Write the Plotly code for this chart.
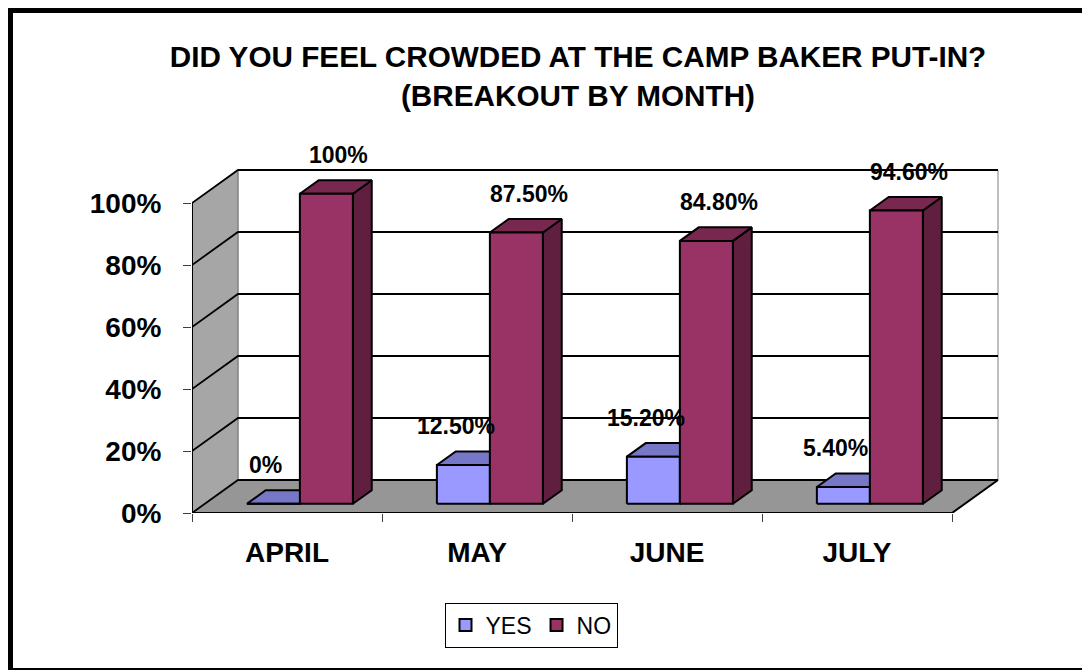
import plotly.graph_objects as go

# ---------------- data ----------------
months = ["APRIL", "MAY", "JUNE", "JULY"]
yes_vals = [0.0, 12.5, 15.2, 5.4]
no_vals = [100.0, 87.5, 84.8, 94.6]
yes_labels = ["0%", "12.50%", "15.20%", "5.40%"]
no_labels = ["100%", "87.50%", "84.80%", "94.60%"]
y_tickvals = [0, 20, 40, 60, 80, 100]
y_ticktext = ["0%", "20%", "40%", "60%", "80%", "100%"]
series_names = ["YES", "NO"]

# ---------------- geometry / style ----------------
OFF = 8                          # page body margin of the html page
WIDTH, HEIGHT = 1090 - OFF, 670 - OFF
AX_X, AX_Y = 192 - OFF, 513 - OFF   # front axis corner (figure px)
TOP_Y = 150 - OFF
PXX, PXY = 190.0, 3.1            # px per category, px per percent
PW = 817
L = AX_X
B = HEIGHT - AX_Y
T = TOP_Y
PH = AX_Y - TOP_Y
XMAX = PW / PXX
YMAX = PH / PXY
DX, DY = 46 / PXX, 33 / PXY      # depth offset of the back wall
F0, F1 = 0.28, 0.69              # bar depth (front, back) as fraction of depth
BW = 53 / PXX                    # bar width
N = len(months)
YTOP = max(y_tickvals)

FONT = "Liberation Sans, Arial, sans-serif"
COL = {
    "YES": {"front": "#9999FF", "top": "#7777C8", "side": "#5F5FA0"},
    "NO": {"front": "#993366", "top": "#78284F", "side": "#611F40"},
}

fig = go.Figure()

def poly(xs, ys, fill, line_color="black", lw=2):
    fig.add_trace(go.Scatter(
        x=xs, y=ys, mode="lines", fill="toself", fillcolor=fill,
        line=dict(color=line_color, width=lw), hoverinfo="skip", showlegend=False))

def lines(xs, ys, color="black", lw=2):
    fig.add_trace(go.Scatter(
        x=xs, y=ys, mode="lines", line=dict(color=color, width=lw),
        hoverinfo="skip", showlegend=False))

# walls & floor
poly([0, 0, DX, DX, 0], [0, YTOP, YTOP + DY, DY, 0], "#A6A6A6", "rgba(0,0,0,0)", 0)
poly([0, N, N + DX, DX, 0], [0, 0, DY, DY, 0], "#969696", "rgba(0,0,0,0)", 0)
poly([DX, N + DX, N + DX, DX, DX], [DY, DY, YTOP + DY, YTOP + DY, DY], "#FFFFFF", "#808080", 1)
lines([DX, DX], [DY, YTOP + DY], "#808080", 1)

# gridlines on side wall and back wall
gx, gy = [], []
for v in y_tickvals:
    gx += [0, DX, N + DX, None]
    gy += [v, v + DY, v + DY, None]
lines(gx, gy, "black", 1.8)

# front axis line, floor front edge, floor right edge
lines([0, 0, None, 0, N, N + DX], [YTOP, 0, None, 0, 0, DY], "black", 2)

# bars as 3-D boxes
def faces(vals, left_of_center):
    sx, sy, tx, ty, fx, fy = [], [], [], [], [], []
    ddx, ddy = (F1 - F0) * DX, (F1 - F0) * DY
    for i, v in enumerate(vals):
        c = i + 0.5
        xl = (c - BW if left_of_center else c) + F0 * DX
        xr = xl + BW
        yb = F0 * DY
        yt = yb + v
        sx += [xr, xr + ddx, xr + ddx, xr, xr, None]
        sy += [yb, yb + ddy, yt + ddy, yt, yb, None]
        tx += [xl, xr, xr + ddx, xl + ddx, xl, None]
        ty += [yt, yt, yt + ddy, yt + ddy, yt, None]
        fx += [xl, xr, xr, xl, xl, None]
        fy += [yb, yb, yt, yt, yb, None]
    return (sx, sy), (tx, ty), (fx, fy)

for name, vals, left in (("YES", yes_vals, True), ("NO", no_vals, False)):
    side, top, front = faces(vals, left)
    poly(*side, COL[name]["side"])
    poly(*top, COL[name]["top"])
    poly(*front, COL[name]["front"])

# legend entries
for name in series_names:
    fig.add_trace(go.Bar(
        x=[None], y=[None], name=name,
        marker=dict(color=COL[name]["front"], line=dict(color="black", width=2))))

# data labels
for i in range(N):
    c = i + 0.5
    fig.add_annotation(x=c - BW / 2, y=yes_vals[i], text=yes_labels[i], showarrow=False,
                       xshift=5, yshift=48, xanchor="center", yanchor="middle",
                       font=dict(family=FONT, size=23, color="black", weight="bold"))
    fig.add_annotation(x=c + BW / 2, y=no_vals[i], text=no_labels[i], showarrow=False,
                       xshift=25, yshift=48, xanchor="center", yanchor="middle",
                       font=dict(family=FONT, size=23, color="black", weight="bold"))

# outer frame (page px -> paper)
def px2x(px):
    return (px - OFF - L) / PW

def px2y(py):
    return (AX_Y - (py - OFF)) / PH

fig.add_shape(type="rect", xref="paper", yref="paper",
              x0=px2x(8.5), x1=px2x(1130), y0=px2y(8.5), y1=px2y(672.5),
              line=dict(color="black", width=9), fillcolor="rgba(0,0,0,0)", layer="above")

fig.update_layout(
    width=WIDTH, height=HEIGHT,
    margin=dict(l=L, r=WIDTH - L - PW, t=T, b=B, autoexpand=False),
    paper_bgcolor="white", plot_bgcolor="white",
    showlegend=True,
    title=dict(text="DID YOU FEEL CROWDED AT THE CAMP BAKER PUT-IN?<br>(BREAKOUT BY MONTH)",
               x=px2x(578), xref="paper", xanchor="center",
               y=1 - 59 / HEIGHT, yref="container", yanchor="middle",
               font=dict(family=FONT, size=29.7, color="black", weight="bold")),
    legend=dict(orientation="h", x=px2x(531), y=px2y(625), xanchor="center", yanchor="middle",
                bordercolor="black", borderwidth=1, bgcolor="white",
                font=dict(family=FONT, size=23, color="black")),
    xaxis=dict(range=[0, XMAX], tickvals=[i + 0.5 for i in range(N)], ticktext=months,
               ticks="", showline=False, showgrid=False, zeroline=False, fixedrange=True,
               ticklabelstandoff=20,
               tickfont=dict(family=FONT, size=28, color="black", weight="bold"),
               minor=dict(tickvals=list(range(N + 1)), ticks="outside", ticklen=8,
                          tickcolor="#404040", tickwidth=1, showgrid=False)),
    yaxis=dict(range=[0, YMAX], tickvals=y_tickvals, ticktext=y_ticktext,
               ticks="outside", ticklen=8, tickcolor="#404040", tickwidth=1,
               showline=False, showgrid=False, zeroline=False, fixedrange=True,
               ticklabelstandoff=16,
               tickfont=dict(family=FONT, size=28, color="black", weight="bold")),
)

fig.write_html("out.html")
